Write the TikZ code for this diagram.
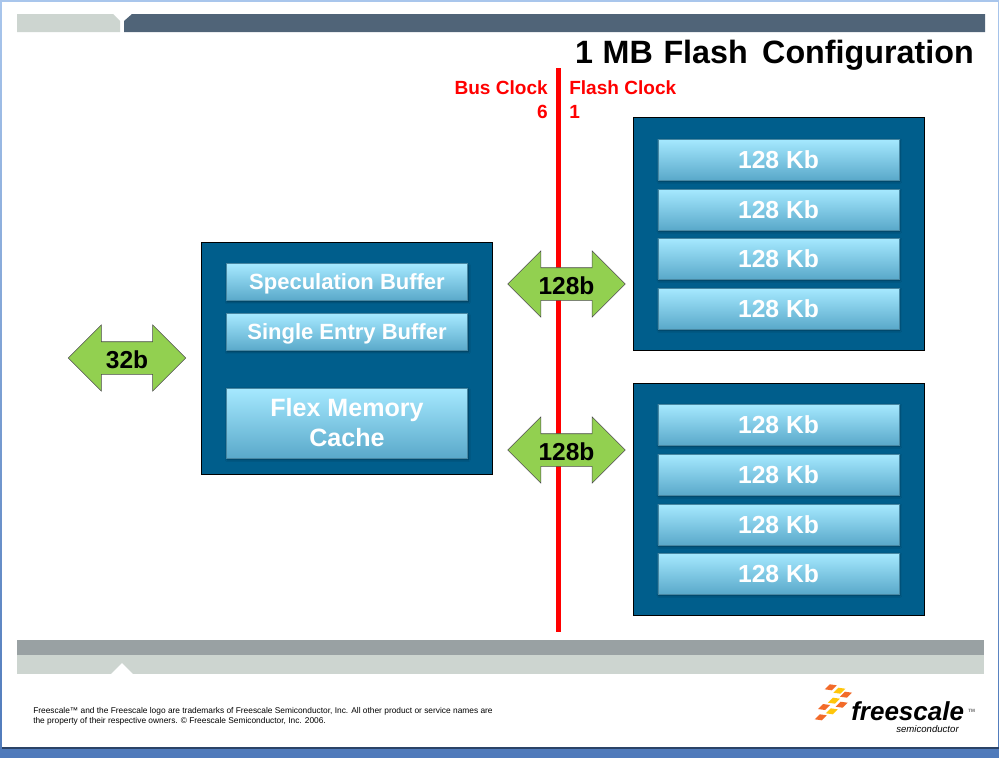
\documentclass[tikz,border=0pt]{standalone}
\usepackage{fontspec}
\setmainfont{Liberation Sans}
\usepackage{tikz}
\usetikzlibrary{shapes.arrows}
\usetikzlibrary{shadows.blur}

\definecolor{panelblue}{HTML}{005E8C}
\definecolor{tiletop}{HTML}{A6E9FF}
\definecolor{tilebottom}{HTML}{5AA9CA}
\definecolor{barlight}{HTML}{CDD5D0}
\definecolor{bardark}{HTML}{506478}
\definecolor{bargray}{HTML}{99A1A3}
\definecolor{arrowgreen}{HTML}{92D050}
\definecolor{logoorange}{HTML}{F26B2A}
\definecolor{logoyellow}{HTML}{FFC60B}
\definecolor{edgetop}{HTML}{A9C6EC}
\definecolor{edgebottom}{HTML}{4F7ABB}

\begin{document}
\begin{tikzpicture}
  [
    x=.75pt,
    y=-.75pt,
    panel/.style={
      draw=black,
      fill=panelblue,
      line width=.6pt
    },
    tile/.style={
      shade,
      top color=tiletop,
      bottom color=tilebottom,
      draw=tilebottom!80!black,
      line width=.3pt,
      blur shadow={shadow blur steps=5,shadow xshift=.6pt,shadow yshift=-1.2pt,shadow blur radius=1.5pt},
      minimum width=180.8pt,
      inner sep=0pt,
      align=center,
      text=white,
      font=\bfseries
    },
    kb/.style={
      tile,
      minimum height=30.5pt,
      font=\bfseries\fontsize{18.5}{20}\selectfont
    },
    buf/.style={
      tile,
      minimum height=27.5pt,
      text depth=0pt,
      font=\bfseries\fontsize{16.5}{18}\selectfont
    },
    width/.style={
      draw=black!70,
      fill=arrowgreen,
      line width=.4pt,
      shape=double arrow,
      double arrow head extend=12.6pt,
      minimum height=88pt,
      inner sep=0pt,
      text height=19.75pt,
      text depth=4.25pt,
      text width=46pt,
      align=center,
      font=\bfseries\fontsize{18.4}{20}\selectfont
    },
    clock/.style={
      text=red,
      inner sep=0pt,
      font=\bfseries\fontsize{14.3}{16}\selectfont
    },
    orangebit/.style={fill=logoorange},
    yellowbit/.style={fill=logoyellow},
    logobit/.pic={
      \path [pic actions] (-6,2) -- (-1,-3) -- (6,-2) -- (1,3) -- cycle;
    }
  ]
    % window edge and slide
    \shade [top color=edgetop,bottom color=edgebottom] (0,0) rectangle (999,757);
    \fill [edgebottom!55!black] (2,747) rectangle (999,749);
    \fill [white] (2,2) rectangle (998,747);
    % header bars
    \fill [barlight] (17,14) -- (113,14) -- (120,21) -- (120,32) -- (17,32) -- cycle;
    \fill [bardark] (132,14) -- (985,14) -- (985,32) -- (124,32) -- (124,21) -- cycle;
    % footer bars
    \fill [bargray] (17,640) rectangle (984,655);
    \fill [barlight] (17,655) rectangle (984,674);
    \fill [white] (111,674) -- (122,663) -- (133,674) -- cycle;
    % title
    \node (title) [anchor=east,inner sep=0pt,font=\bfseries\fontsize{24.2}{26}\selectfont,text depth=0pt] at (974,52) {1\hspace{.02em} MB\hspace{.05em} Flash\hspace{.17em} Configuration};
    % bus line and clock labels
    \coordinate (linetop) at (558.5,68);
    \coordinate (linebottom) at (558.5,632);
    \draw [red,line width=3.6pt] (linetop) -- (linebottom);
    \node (busclock) [clock,anchor=east] at (548,88) {Bus Clock};
    \node (busratio) [clock,anchor=east] at (548,112) {6};
    \node (flashclock) [clock,anchor=west] at (569,88) {Flash Clock};
    \node (flashratio) [clock,anchor=west] at (569,112) {1};
    % left panel
    \draw [panel] (201,242) rectangle (492,474);
    \node (specbuf) [buf] at (347,282) {Speculation Buffer};
    \node (singlebuf) [buf] at (347,332) {Single Entry Buffer};
    \node (flexcache) [tile,minimum height=52.5pt,font=\bfseries\fontsize{18.8}{22.5}\selectfont] at (347,423) {Flex Memory\\Cache};
    % upper flash block
    \draw [panel] (633,117) rectangle (924,350);
    \node (blocka) [kb] at (778.5,159.5) {128 Kb};
    \node (blockb) [kb] at (778.5,209.5) {128 Kb};
    \node (blockc) [kb] at (778.5,258.5) {128 Kb};
    \node (blockd) [kb] at (778.5,308.5) {128 Kb};
    % lower flash block
    \draw [panel] (633,383) rectangle (924,615);
    \node (blocke) [kb] at (778.5,424.5) {128 Kb};
    \node (blockf) [kb] at (778.5,474.5) {128 Kb};
    \node (blockg) [kb] at (778.5,524.5) {128 Kb};
    \node (blockh) [kb] at (778.5,573.5) {128 Kb};
    % bus widths
    \node (cpuwidth) [width] at (127,358) {32b\hspace{2pt}};
    \node (upperwidth) [width] at (566.5,284) {128b};
    \node (lowerwidth) [width] at (566.5,450) {128b};
    % legal text
    \node (legal) [anchor=north west,inner sep=0pt,align=left,font=\fontsize{6.27}{7.5}\selectfont] at (33,707) {Freescale™ and the Freescale logo are trademarks of Freescale Semiconductor, Inc. All other product or service names are\\the property of their respective owners. © Freescale Semiconductor, Inc. 2006.};
    % logo
    \pic [orangebit] at (830.7,687.3) {logobit};
    \pic [yellowbit] at (839.3,690.7) {logobit};
    \pic [orangebit] at (846,694.7) {logobit};
    \pic [yellowbit] at (834,700.7) {logobit};
    \pic [orangebit] at (841.7,704.7) {logobit};
    \pic [orangebit] at (824,707) {logobit};
    \pic [yellowbit] at (831.7,711.3) {logobit};
    \pic [orangebit] at (820.7,717.3) {logobit};
    \node (logoname) [anchor=west,inner sep=0pt,text depth=0pt,font=\bfseries\itshape\fontsize{19.5}{20}\selectfont] at (851,711) {freescale};
    \node (logotm) [anchor=west,inner sep=0pt,text=black!60,font=\bfseries\fontsize{3.5}{4}\selectfont] at (968,711) {TM};
    \node (logosub) [anchor=west,inner sep=0pt,text height=3.6pt,font=\itshape\fontsize{7.2}{8}\selectfont] at (896,730) {semiconductor};
\end{tikzpicture}
\end{document}
